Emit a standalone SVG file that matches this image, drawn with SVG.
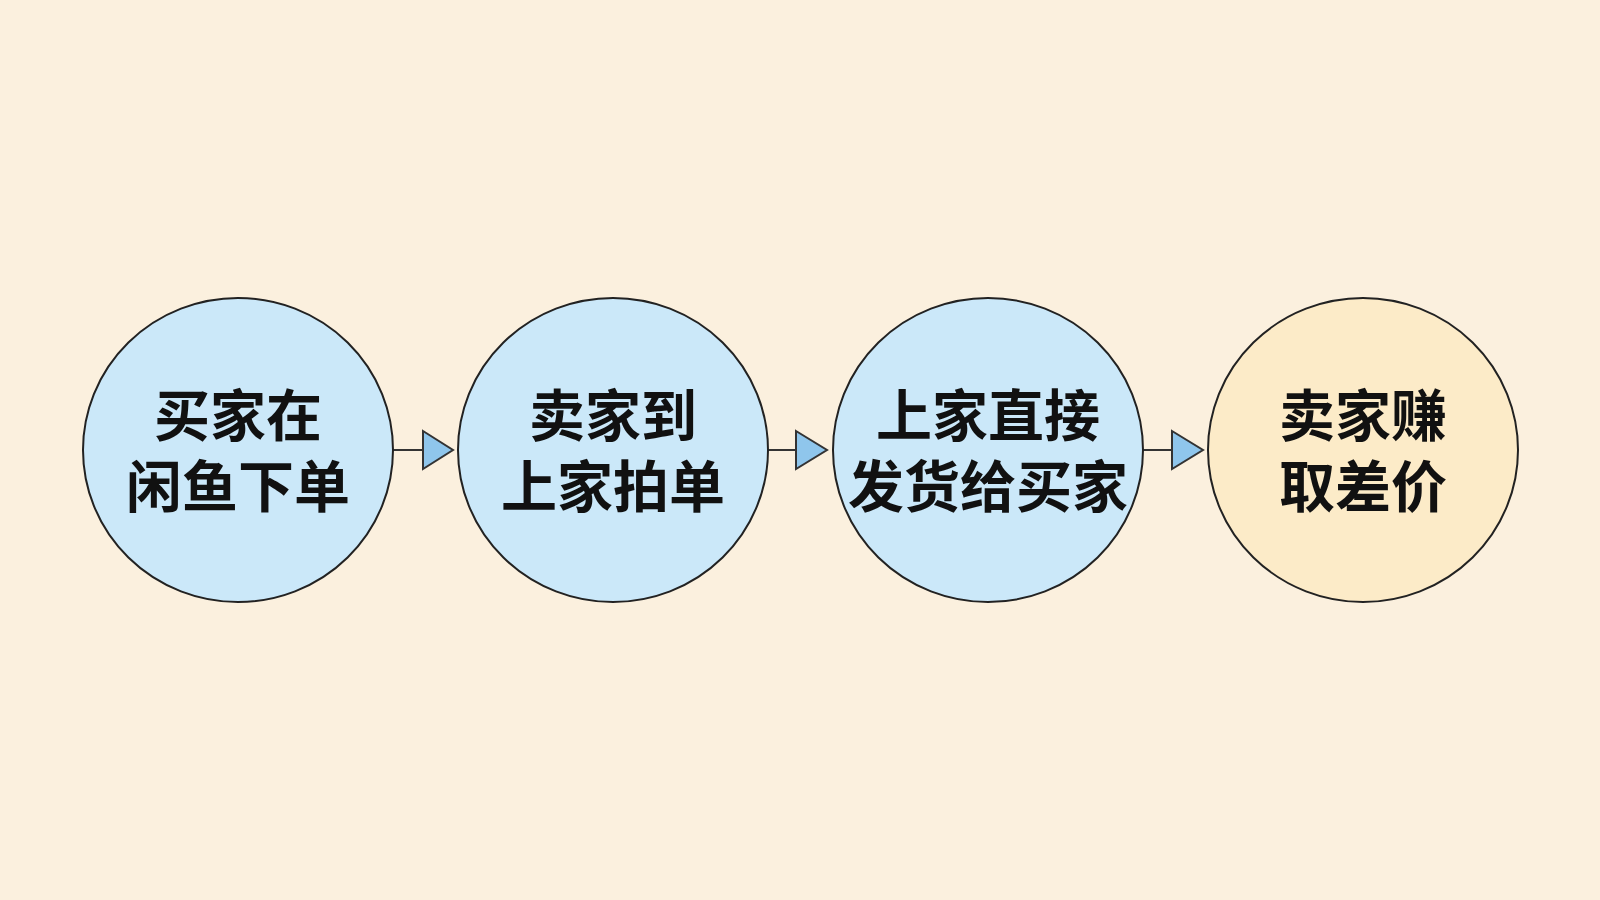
<svg xmlns="http://www.w3.org/2000/svg" width="1600" height="900" viewBox="0 0 1600 900">
<defs>
<style>
.node-blue{fill:#cbe8f9;stroke:#222;stroke-width:2}
.node-cream{fill:#fcebc8;stroke:#222;stroke-width:2}
.lbl{font-family:"Noto Sans CJK SC","Noto Sans",sans-serif;font-weight:700;font-size:56px;fill:#111;text-anchor:middle}
.conn{stroke:#333;stroke-width:2;fill:none}
.head{fill:#8fc6ec;stroke:#333;stroke-width:2;stroke-linejoin:miter}
</style>
</defs>
<rect x="0" y="0" width="1600" height="900" fill="#fbf0de"/>
<g id="connectors">
<line class="conn" x1="393" y1="450" x2="423" y2="450"/>
<polygon class="head" points="423,431 453,450 423,469"/>
<line class="conn" x1="768" y1="450" x2="796" y2="450"/>
<polygon class="head" points="796,431 827,450 796,469"/>
<line class="conn" x1="1143" y1="450" x2="1172" y2="450"/>
<polygon class="head" points="1172,431 1203,450 1172,469"/>
</g>
<g id="node1">
<ellipse class="node-blue" cx="238" cy="450" rx="155" ry="152"/>
<text class="lbl" x="238" y="436">买家在</text>
<text class="lbl" x="238" y="507">闲鱼下单</text>
</g>
<g id="node2">
<ellipse class="node-blue" cx="613" cy="450" rx="155" ry="152"/>
<text class="lbl" x="613" y="436">卖家到</text>
<text class="lbl" x="613" y="507">上家拍单</text>
</g>
<g id="node3">
<ellipse class="node-blue" cx="988" cy="450" rx="155" ry="152"/>
<text class="lbl" x="988" y="436">上家直接</text>
<text class="lbl" x="988" y="507">发货给买家</text>
</g>
<g id="node4">
<ellipse class="node-cream" cx="1363" cy="450" rx="155" ry="152"/>
<text class="lbl" x="1363" y="436">卖家赚</text>
<text class="lbl" x="1363" y="507">取差价</text>
</g>
</svg>
